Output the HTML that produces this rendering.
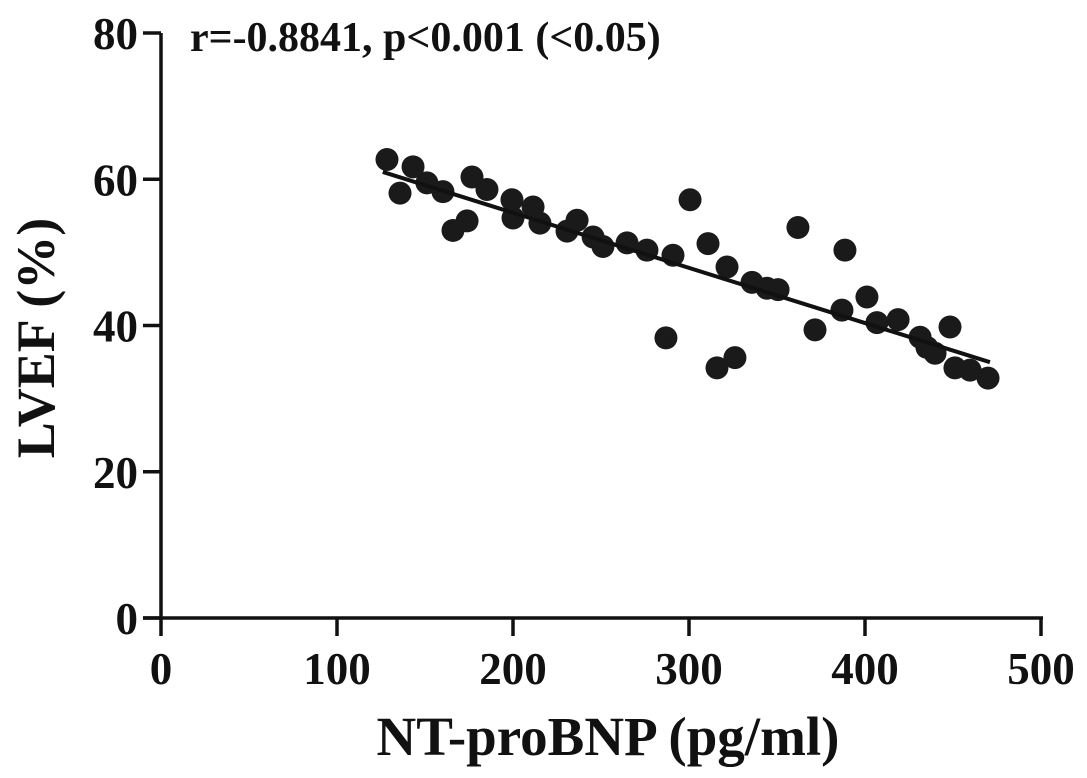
<!DOCTYPE html>
<html><head><meta charset="utf-8"><style>
html,body{margin:0;padding:0;background:#fff;}
svg{display:block;font-family:"Liberation Serif",serif;font-weight:bold;}
</style></head><body>
<svg id="chart" width="1087" height="778" viewBox="0 0 1087 778">
<g id="axes"></g><g id="marks"></g>
<text x="190" y="51" font-size="42" fill="#111">r=-0.8841, p&lt;0.001 (&lt;0.05)</text>
<text x="608" y="755" font-size="55" text-anchor="middle" fill="#111">NT-proBNP (pg/ml)</text>
<text transform="translate(54,338) rotate(-90)" font-size="54" text-anchor="middle" fill="#111">LVEF (%)</text>
</svg>
<script>
const xTicks=[0,100,200,300,400,500];
const yTicks=[0,20,40,60,80];
const xVals=[128.4,135.8,143.2,151.1,160.2,165.9,173.9,176.7,185.2,199.4,200,211.4,215.3,230.7,236.4,245.5,251.1,264.8,276.1,290.9,300.6,310.8,321.6,335.8,344.3,350.6,361.9,371.6,386.9,388.6,401.1,406.8,418.8,431.3,435.2,439.8,448.3,451.1,459.7,469.9,315.9,326.1,286.9];
const yVals=[62.7,58.1,61.7,59.5,58.3,53.0,54.3,60.3,58.6,57.2,54.7,56.2,54.0,52.9,54.4,52.1,50.8,51.3,50.3,49.6,57.2,51.2,48.0,45.9,45.1,44.9,53.4,39.4,42.1,50.3,43.9,40.4,40.8,38.4,37.0,36.2,39.8,34.2,33.9,32.8,34.2,35.6,38.3];
const fitSlope=-0.0754, fitIntercept=70.5, fitRange=[126,471];
const NS='http://www.w3.org/2000/svg';
const X=v=>161+v*1.76, Y=v=>618-v*7.3125;
const axes=document.getElementById('axes'), marks=document.getElementById('marks');
function mk(p,tag,at){const e=document.createElementNS(NS,tag);for(const k in at)e.setAttribute(k,at[k]);p.appendChild(e);return e;}
let l=mk(axes,'line',{x1:X(0),y1:Y(80),x2:X(0),y2:Y(0),stroke:'#111','stroke-width':3.5});


l=mk(axes,'line',{x1:X(0)-18,y1:Y(0),x2:X(500)+2,y2:Y(0),stroke:'#111','stroke-width':3.5});


xTicks.forEach(t=>{
 const tk=mk(axes,'line',{x1:X(t),y1:Y(0),x2:X(t),y2:Y(0)+18,stroke:'#111','stroke-width':3.5});
 
 
 const tx=mk(axes,'text',{x:X(t),y:Y(0)+66,'font-size':45,'text-anchor':'middle',fill:'#111'});
 tx.textContent=t;
 
 
});
yTicks.forEach(t=>{
 const tk=mk(axes,'line',{x1:X(0)-18,y1:Y(t),x2:X(0),y2:Y(t),stroke:'#111','stroke-width':3.5});
 
 
 const tx=mk(axes,'text',{x:X(0)-23,y:Y(t)+16,'font-size':45,'text-anchor':'end',fill:'#111'});
 tx.textContent=t;
 
 
});
xVals.forEach((v,i)=>{
 const c=mk(marks,'circle',{cx:X(v),cy:Y(yVals[i]),r:11.5,fill:'#1a1a1a'});
 
 
});
const f=mk(marks,'line',{x1:X(fitRange[0]),y1:Y(fitIntercept+fitSlope*fitRange[0]),x2:X(fitRange[1]),y2:Y(fitIntercept+fitSlope*fitRange[1]),stroke:'#111','stroke-width':4});


</script>
</body></html>
